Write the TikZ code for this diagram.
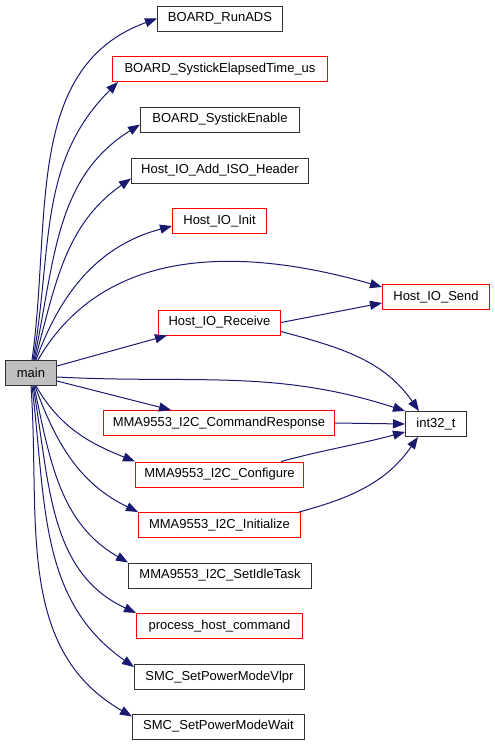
\documentclass[tikz,border=0pt]{standalone}
\usepackage{fontspec}
\setmainfont{Liberation Sans}
\usetikzlibrary{arrows.meta}
\definecolor{edgeblue}{HTML}{191970}
\definecolor{boxgray}{HTML}{BFBFBF}
\tikzset{
  fn/.style={draw=black!80, line width=1pt, anchor=west, minimum height=25pt,
    inner sep=0pt, font=\fontsize{13}{15}\selectfont},
  fnred/.style={fn, draw=red},
  call/.style={edgeblue, line width=1pt, -{Triangle[length=12pt,width=9pt]}}
}
\begin{document}
\begin{tikzpicture}[x=1pt, y=-1pt]
\useasboundingbox (0,0) rectangle (495,747);
% caller
\node[fn, fill=boxgray, minimum width=51pt] (main) at (5,373) {main};
% callees
\node[fn, minimum width=125pt] (runads) at (157,18.5) {BOARD\_RunADS};
\node[fnred, minimum width=215pt] (elapsed) at (112,69) {BOARD\_SystickElapsedTime\_us};
\node[fn, minimum width=159pt] (enable) at (140,119.5) {BOARD\_SystickEnable};
\node[fn, minimum width=177pt] (isohdr) at (131,170.5) {Host\_IO\_Add\_ISO\_Header};
\node[fnred, minimum width=94pt] (init) at (172,221) {Host\_IO\_Init};
\node[fnred, minimum width=107pt] (send) at (382,297) {Host\_IO\_Send};
\node[fnred, minimum width=122pt] (receive) at (158,322.5) {Host\_IO\_Receive};
\node[fn, minimum width=61pt] (int32) at (405,424) {int32\_t};
\node[fnred, minimum width=231pt] (cmdresp) at (103,423) {MMA9553\_I2C\_CommandResponse};
\node[fnred, minimum width=168pt] (configure) at (135,474.5) {MMA9553\_I2C\_Configure};
\node[fnred, minimum width=162pt] (initialize) at (138,525) {MMA9553\_I2C\_Initialize};
\node[fn, minimum width=183pt] (idle) at (128,575.5) {MMA9553\_I2C\_SetIdleTask};
\node[fnred, minimum width=166pt] (phc) at (136,626) {process\_host\_command};
\node[fn, minimum width=170pt] (vlpr) at (134,677) {SMC\_SetPowerModeVlpr};
\node[fn, minimum width=172pt] (wait) at (132,726.5) {SMC\_SetPowerModeWait};
% edges going up
\draw[call] ([xshift=1pt]main.north) to[out=82, in=200] (runads.west);
\draw[call] ([xshift=2pt]main.north) to[out=80, in=225] ([xshift=6pt]elapsed.south west);
\draw[call] ([xshift=3pt]main.north) to[out=78, in=212] ([yshift=-5pt]enable.west);
\draw[call] ([xshift=4pt]main.north) to[out=75, in=215] ([yshift=-8pt]isohdr.west);
\draw[call] ([xshift=5pt]main.north) to[out=70, in=195] ([yshift=-5pt]init.west);
\draw[call] ([xshift=7pt]main.north) to[out=60, in=164] ([yshift=10pt]send.west);
\draw[call] ([yshift=7pt]main.east) -- ([xshift=9pt]receive.south west);
% edges to the right
\draw[call] (receive.east) -- ([yshift=-6pt]send.west);
\draw[call] ([yshift=-9pt]receive.east) to[out=-15, in=125] ([xshift=-17pt]int32.north);
\draw[call] ([yshift=-4pt]main.east) to[out=-3, in=162] (int32.north west);
\draw[call] ([yshift=-8pt]main.east) -- ([xshift=-48pt]cmdresp.north);
\draw[call] (cmdresp.east) -- (int32.west);
\draw[call] ([xshift=-23pt]configure.north east) to[out=15, in=195] ([yshift=-8pt]int32.west);
\draw[call] ([xshift=-2pt]initialize.north east) to[out=15, in=235] ([xshift=-18pt]int32.south);
% edges going down
\draw[call] ([xshift=5pt]main.south) to[out=-60, in=158] (configure.north west);
\draw[call] ([xshift=4pt]main.south) to[out=-70, in=154] (initialize.north west);
\draw[call] ([xshift=3pt]main.south) to[out=-78, in=150] (idle.north west);
\draw[call] ([xshift=2pt]main.south) to[out=-80, in=155] (phc.north west);
\draw[call] ([xshift=1pt]main.south) to[out=-83, in=145] ([yshift=-3pt]vlpr.north west);
\draw[call] (main.south) to[out=-86, in=150] ([yshift=-3pt]wait.north west);
\end{tikzpicture}
\end{document}
